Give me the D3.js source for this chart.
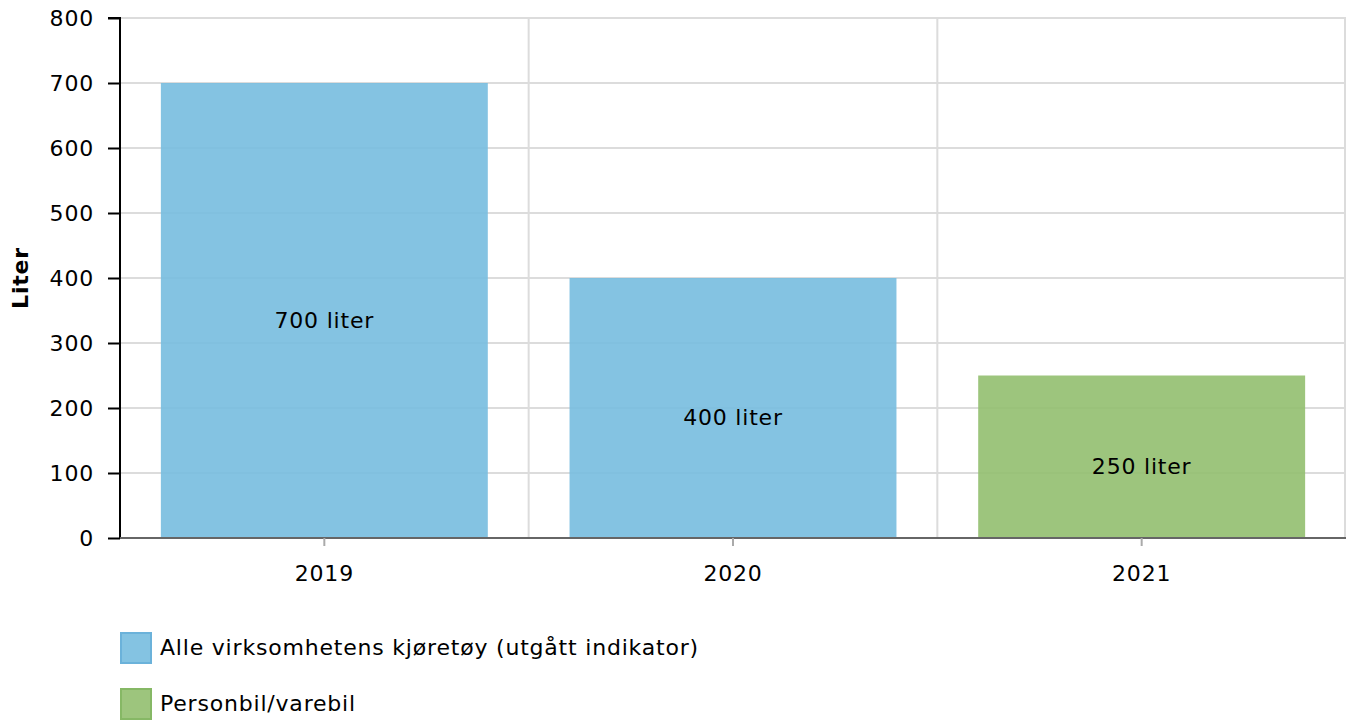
<!DOCTYPE html>
<html>
<head>
<meta charset="utf-8">
<script src="https://cdn.jsdelivr.net/npm/d3@7"></script>
<style>
  body { margin: 0; background: #fff; }
  svg { display: block; font-family: Verdana, "DejaVu Sans", sans-serif; }
  text { letter-spacing: 0.8px; }
</style>
</head>
<body>
<svg id="chart" width="1346" height="724"></svg>
<script>
// data
var years = ["2019", "2020", "2021"];
var values = [700, 400, 250];
var series = ["Alle virksomhetens kjøretøy (utgått indikator)", "Alle virksomhetens kjøretøy (utgått indikator)", "Personbil/varebil"];
var legendNames = ["Alle virksomhetens kjøretøy (utgått indikator)", "Personbil/varebil"];
var legendColors = ["#77bcdf", "#92bf6f"];
var legendStroke = ["#6bb2da", "#86b865"];
var yTicks = [0, 100, 200, 300, 400, 500, 600, 700, 800];

var margin = {top: 18, right: 0, bottom: 186, left: 120};
var width = 1346, height = 724;
var fs = "22px";

var svg = d3.select("#chart");

var x = d3.scaleBand()
    .domain(years)
    .range([margin.left, width - margin.right])
    .paddingInner(0.2)
    .paddingOuter(0.1);

var y = d3.scaleLinear()
    .domain([0, 800])
    .range([height - margin.bottom, margin.top]);

var color = d3.scaleOrdinal().domain(legendNames).range(legendColors);

// horizontal grid lines
svg.append("g").selectAll("line")
    .data(yTicks.slice(1))
    .enter()
    .append("line")
    .attr("x1", margin.left).attr("x2", width)
    .attr("y1", function(d) { return y(d); })
    .attr("y2", function(d) { return y(d); })
    .attr("stroke", "#dcdcdc")
    .attr("stroke-width", 2);

// vertical grid lines at category boundaries
var step = x.step();
var bounds = years.map(function(d, i) { return margin.left + step * (i + 1); });
svg.append("g").selectAll("line")
    .data(bounds)
    .enter()
    .append("line")
    .attr("x1", function(d) { return Math.min(d, width - 1); })
    .attr("x2", function(d) { return Math.min(d, width - 1); })
    .attr("y1", y(800)).attr("y2", y(0))
    .attr("stroke", "#dcdcdc")
    .attr("stroke-width", 2);

// bars (slightly see-through, grid shows faintly)
svg.append("g").selectAll("rect")
    .data(years)
    .enter()
    .append("rect")
    .attr("x", function(d) { return x(d); })
    .attr("width", x.bandwidth())
    .attr("y", function(d, i) { return y(values[i]); })
    .attr("height", function(d, i) { return y(0) - y(values[i]); })
    .attr("fill", function(d, i) { return color(series[i]); })
    .attr("fill-opacity", 0.9);

// y axis
var yAxis = svg.append("g")
    .attr("transform", `translate(${margin.left},0)`)
    .call(d3.axisLeft(y).tickValues(yTicks).tickSize(12).tickPadding(14));
yAxis.select(".domain").attr("stroke", "#000").attr("stroke-width", 2).attr("d", `M-12,${y(800)}H0V${y(0)}`);
yAxis.selectAll(".tick line").attr("stroke", "#000").attr("stroke-width", 2);
yAxis.selectAll(".tick text")
    .attr("fill", "#000")
    .style("font-size", fs)
    .style("font-family", "Verdana, 'DejaVu Sans', sans-serif");

// x axis
var xAxis = svg.append("g")
    .attr("transform", `translate(0,${y(0)})`)
    .call(d3.axisBottom(x).tickSize(8).tickPadding(19));
xAxis.select(".domain").attr("stroke", "#666").attr("stroke-width", 2).attr("d", `M${margin.left},0H${width}`);
xAxis.selectAll(".tick line").attr("stroke", "#aaa").attr("stroke-width", 2);
xAxis.selectAll(".tick text")
    .attr("fill", "#000")
    .style("font-size", fs)
    .style("font-family", "Verdana, 'DejaVu Sans', sans-serif");

// y axis title
svg.append("text")
    .attr("transform", `translate(28,${(y(800) + y(0)) / 2}) rotate(-90)`)
    .attr("text-anchor", "middle")
    .style("font-size", fs)
    .style("font-weight", "bold")
    .text("Liter");

// bar labels
svg.append("g").selectAll("text")
    .data(years)
    .enter()
    .append("text")
    .attr("x", function(d) { return x(d) + x.bandwidth() / 2; })
    .attr("y", function(d, i) { return (y(values[i]) + y(0)) / 2 + 17; })
    .attr("text-anchor", "middle")
    .style("font-size", fs)
    .attr("fill", "#000")
    .text(function(d, i) { return values[i] + " liter"; });

// legend
var legend = svg.append("g").selectAll("g")
    .data(legendNames)
    .enter()
    .append("g")
    .attr("transform", function(d, i) { return `translate(121,${633 + i * 56})`; });
legend.append("rect")
    .attr("width", 30).attr("height", 30)
    .attr("fill", function(d, i) { return legendColors[i]; })
    .attr("fill-opacity", 0.9)
    .attr("stroke", function(d, i) { return legendStroke[i]; })
    .attr("stroke-width", 2);
legend.append("text")
    .attr("x", 39).attr("y", 22)
    .style("font-size", fs)
    .attr("fill", "#000")
    .text(function(d) { return d; });
</script>
</body>
</html>
